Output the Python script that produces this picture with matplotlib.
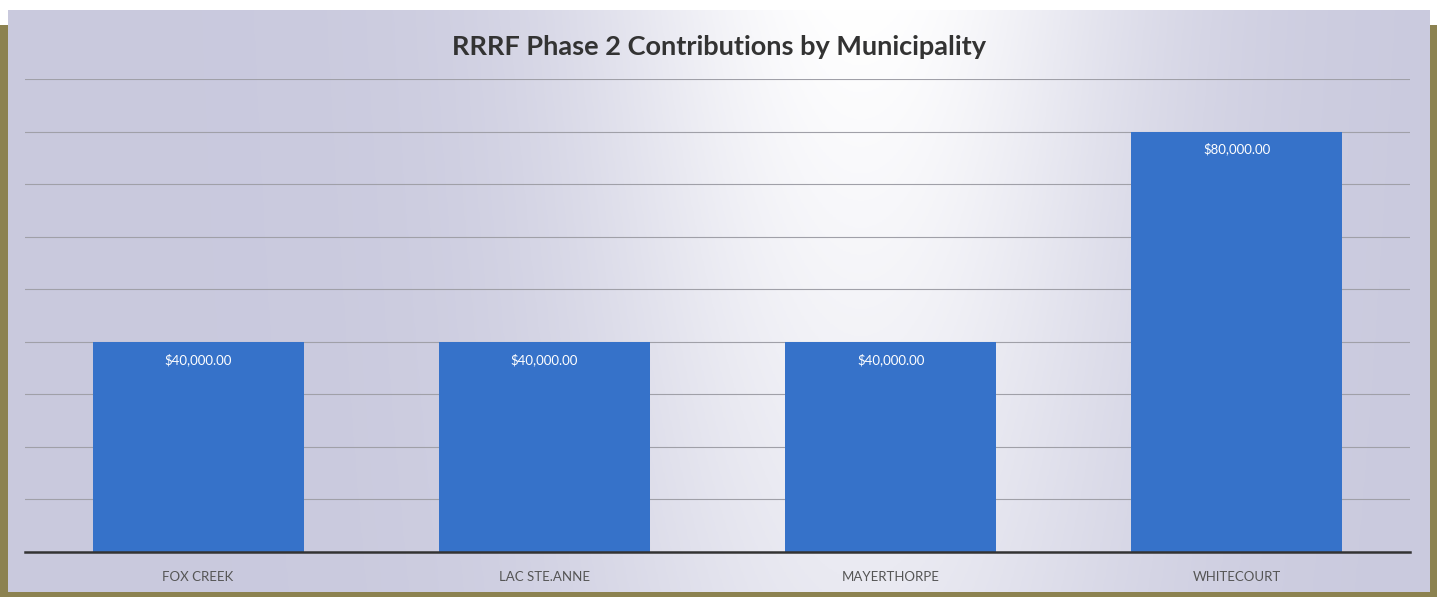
import matplotlib as mpl
import matplotlib.pyplot as plt
import numpy as np

mpl.rcParams['font.family'] = ['Lato', 'DejaVu Sans']

# data
municipalities = ['FOX CREEK', 'LAC STE.ANNE', 'MAYERTHORPE', 'WHITECOURT']
contributions = [40000, 40000, 40000, 80000]
title = 'RRRF Phase 2 Contributions by Municipality'

bar_color = '#3672c9'
W, H = 1437, 597

fig = plt.figure(figsize=(W / 100, H / 100), dpi=100, facecolor='white')

# olive board behind the printed chart
olive = fig.add_axes([0, 0, 1, 1 - 25 / H], zorder=-3)
olive.set_facecolor('#8c8250')
olive.set_xticks([]); olive.set_yticks([])
for s in olive.spines.values():
  s.set_visible(False)

# printed sheet with a light glare in the middle
sheet = fig.add_axes([8 / W, 5 / H, 1422 / W, 582 / H], zorder=-2)
xs = np.linspace(0, 1, 400)
ys = np.linspace(0, 1, 200)
gx, gy = np.meshgrid(xs, ys)
glare = np.exp(-((gx - 0.6) / 0.2) ** 2) * (0.6 + 0.4 * gy)
glare = np.clip(glare, 0, 1)
base = np.array([0.79, 0.79, 0.87])
img = base[None, None, :] * (1 - glare[..., None]) + np.ones(3)[None, None, :] * glare[..., None]
sheet.imshow(img, aspect='auto', extent=[0, 1, 0, 1], origin='lower')
sheet.set_xticks([]); sheet.set_yticks([])
for s in sheet.spines.values():
  s.set_visible(False)

ax = fig.add_axes([25 / W, 45 / H, 1385 / W, 473 / H])
ax.set_facecolor('none')
x = np.arange(len(municipalities))
bars = ax.bar(x, contributions, width=0.61, color=bar_color, zorder=2)
for rect, val in zip(bars, contributions):
  ax.annotate(f'${val:,.2f}', (rect.get_x() + rect.get_width() / 2, val),
              xytext=(0, -8), textcoords='offset points', ha='center', va='top',
              color='white', fontsize=9.5)

ax.set_xlim(-0.5, len(municipalities) - 0.5)
ax.set_ylim(0, 90000)
ax.set_yticks(np.arange(0, 90001, 10000))
ax.yaxis.grid(True, color='#a0a0a8', linewidth=0.8)
ax.set_axisbelow(True)
ax.tick_params(axis='y', left=False, labelleft=False)
ax.tick_params(axis='x', bottom=False, pad=10, labelsize=9.5, labelcolor='#555555')
ax.set_xticks(x)
ax.set_xticklabels(municipalities)
for side in ['top', 'right', 'left']:
  ax.spines[side].set_visible(False)
ax.spines['bottom'].set_color('#333333')
ax.spines['bottom'].set_linewidth(1.8)

fig.text(0.5, 1 - 47 / H, title, ha='center', va='center', fontsize=19.5,
         fontweight='bold', color='#333333')

fig.savefig('out.png', dpi=100, facecolor=fig.get_facecolor())
